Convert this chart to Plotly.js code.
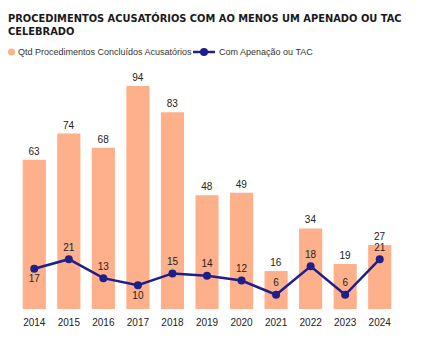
<!DOCTYPE html>
<html><head><meta charset="utf-8">
<script src="https://cdn.plot.ly/plotly-3.0.1.min.js"></script>
<style>html,body{margin:0;padding:0;background:#fff}</style>
</head><body><div id="chart" style="width:424px;height:339px"></div>
<script>
const years = ['2014','2015','2016','2017','2018','2019','2020','2021','2022','2023','2024'];
const concluidos = [63,74,68,94,83,48,49,16,34,19,27];
const apenacao = [17,21,13,10,15,14,12,6,18,6,21];
const apenacaoLabelPos = ['bottom center','top center','top center','bottom center','top center','top center','top center','top center','top center','top center','top center'];
const barName = 'Qtd Procedimentos Concluídos Acusatórios';
const lineName = 'Com Apenação ou TAC';

const barColor = '#FDB08A';
const lineColor = '#1F1F8C';

const W = 424, H = 339, mL = 17, mR = 27, mT = 70, mB = 30;
const pw = W - mL - mR, ph = H - mT - mB;
const px = v => (v - mL) / pw;          // pixel -> paper x
const py = v => (H - mB - v) / ph;      // pixel -> paper y

const traces = [
  {type:'bar', x:years, y:concluidos, name:barName,
   marker:{color:barColor}, text:concluidos.map(String), textposition:'outside',
   textfont:{size:10,color:'#222',family:'Liberation Sans, Arial, sans-serif'}, cliponaxis:false,
   hoverinfo:'skip'},
  {type:'scatter', mode:'lines+markers+text', x:years, y:apenacao, name:lineName,
   line:{color:lineColor, width:2.5}, marker:{color:lineColor, size:8},
   text:apenacao.map(String), textposition:apenacaoLabelPos,
   textfont:{size:10,color:'#222',family:'Liberation Sans, Arial, sans-serif'}, cliponaxis:false}
];

const legY = 52;
const shapes = [
  {type:'circle', xref:'paper', yref:'paper', x0:px(8), x1:px(15), y0:py(legY+3.5), y1:py(legY-3.5),
   fillcolor:barColor, line:{width:0}},
  {type:'line', xref:'paper', yref:'paper', x0:px(193), x1:px(215), y0:py(legY), y1:py(legY),
   line:{color:lineColor, width:2.5}},
  {type:'circle', xref:'paper', yref:'paper', x0:px(200), x1:px(208), y0:py(legY+4), y1:py(legY-4),
   fillcolor:lineColor, line:{width:0}}
];
const annotations = [
  {text:barName, xref:'paper', yref:'paper', x:px(16), y:py(legY), xanchor:'left', yanchor:'middle',
   showarrow:false, font:{size:9,color:'#333'}},
  {text:lineName, xref:'paper', yref:'paper', x:px(217), y:py(legY), xanchor:'left', yanchor:'middle',
   showarrow:false, font:{size:9,color:'#333'}}
];

const layout = {
  width:W, height:H,
  margin:{l:mL, r:mR, t:mT, b:mB},
  paper_bgcolor:'#fff', plot_bgcolor:'#fff',
  font:{family:'Liberation Sans, Arial, sans-serif', color:'#222', size:10},
  title:{text:'<b>PROCEDIMENTOS ACUSATÓRIOS COM AO MENOS UM APENADO OU TAC<br>CELEBRADO</b>',
    x:8/W, xref:'container', xanchor:'left', y:1-22/H, yref:'container', yanchor:'top',
    font:{family:'DejaVu Sans, sans-serif', size:9.9, color:'#1a1a1a'}},
  bargap:0.33,
  xaxis:{type:'category', range:[-0.5, years.length-0.5], showgrid:false, zeroline:false, showline:false, ticks:'',
    tickfont:{size:10,color:'#222'}, ticklabelstandoff:6},
  yaxis:{range:[0,100.8], visible:false, showgrid:false, zeroline:false},
  showlegend:false,
  shapes:shapes, annotations:annotations
};
Plotly.newPlot('chart', traces, layout, {displayModeBar:false, staticPlot:true});
</script></body></html>
